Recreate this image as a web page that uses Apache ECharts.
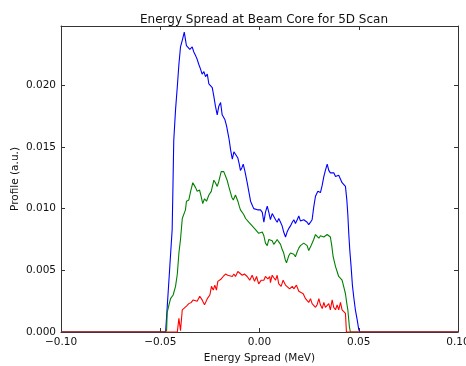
<!DOCTYPE html>
<html>
	<head>
		<meta charset="utf-8">
		<title>Energy Spread at Beam Core for 5D Scan</title>
		<script type="text/javascript" src="https://cdn.jsdelivr.net/npm/echarts@6/dist/echarts.min.js"></script>
	</head>
	<body style="margin:0;background:#fff;">
		<div id="main" style="width:466px;height:366px;"></div>
	</body>
	<script type="text/javascript">
		// energy spread (MeV) / profile (a.u.)
		var blueX = [-0.1000, -0.0473, -0.0465, -0.0453, -0.0440, -0.0436, -0.0432, -0.0423, -0.0414, -0.0406, -0.0398, -0.0388, -0.0379, -0.0373, -0.0368, -0.0358, -0.0351, -0.0339, -0.0331, -0.0322, -0.0314, -0.0306, -0.0297, -0.0289, -0.0280, -0.0272, -0.0263, -0.0255, -0.0247, -0.0238, -0.0230, -0.0222, -0.0213, -0.0205, -0.0196, -0.0188, -0.0180, -0.0174, -0.0166, -0.0160, -0.0153, -0.0146, -0.0137, -0.0129, -0.0121, -0.0109, -0.0102, -0.0096, -0.0089, -0.0082, -0.0073, -0.0062, -0.0054, -0.0045, -0.0037, -0.0029, -0.0020, -0.0010, 0.0005, 0.0014, 0.0022, 0.0030, 0.0039, 0.0047, 0.0055, 0.0064, 0.0072, 0.0081, 0.0089, 0.0097, 0.0106, 0.0114, 0.0122, 0.0131, 0.0139, 0.0148, 0.0156, 0.0165, 0.0173, 0.0181, 0.0190, 0.0198, 0.0206, 0.0215, 0.0223, 0.0232, 0.0240, 0.0248, 0.0257, 0.0265, 0.0273, 0.0282, 0.0294, 0.0307, 0.0316, 0.0324, 0.0332, 0.0341, 0.0349, 0.0357, 0.0366, 0.0374, 0.0383, 0.0391, 0.0399, 0.0408, 0.0416, 0.0424, 0.0433, 0.0440, 0.0445, 0.0450, 0.0455, 0.0461, 0.0468, 0.0475, 0.0483, 0.0492, 0.0500, 0.0506, 0.1000];
		var blueY = [0, 0, 0.0020, 0.0050, 0.0083, 0.0118, 0.0155, 0.0180, 0.0199, 0.0217, 0.0231, 0.0237, 0.0243, 0.0237, 0.0232, 0.0231, 0.0229, 0.0231, 0.0227, 0.0224, 0.0221, 0.0217, 0.0213, 0.0209, 0.0211, 0.0207, 0.0209, 0.0201, 0.0202, 0.0198, 0.0191, 0.0183, 0.0176, 0.0183, 0.0186, 0.0176, 0.0175, 0.0172, 0.0167, 0.0162, 0.0156, 0.0148, 0.0140, 0.0146, 0.0144, 0.0141, 0.0136, 0.0131, 0.0133, 0.0136, 0.0130, 0.0121, 0.0114, 0.0106, 0.0103, 0.0100, 0.0099, 0.0099, 0.0099, 0.0097, 0.0089, 0.0097, 0.0102, 0.0097, 0.0091, 0.0096, 0.0095, 0.0091, 0.0089, 0.0092, 0.0089, 0.0086, 0.0081, 0.0077, 0.0081, 0.0084, 0.0086, 0.0089, 0.0091, 0.0088, 0.0091, 0.0094, 0.0090, 0.0089, 0.0091, 0.0091, 0.0089, 0.0087, 0.0089, 0.0091, 0.0101, 0.0110, 0.0114, 0.0113, 0.0119, 0.0126, 0.0131, 0.0136, 0.0131, 0.0129, 0.0130, 0.0129, 0.0126, 0.0125, 0.0127, 0.0126, 0.0121, 0.0122, 0.0118, 0.0107, 0.0095, 0.0079, 0.0066, 0.0054, 0.0038, 0.0028, 0.0018, 0.0010, 0.0002, 0, 0];

		var greenX = [-0.1000, -0.0483, -0.0468, -0.0465, -0.0456, -0.0448, -0.0435, -0.0423, -0.0414, -0.0406, -0.0398, -0.0389, -0.0381, -0.0373, -0.0368, -0.0356, -0.0347, -0.0336, -0.0322, -0.0314, -0.0302, -0.0294, -0.0286, -0.0277, -0.0267, -0.0255, -0.0243, -0.0230, -0.0222, -0.0213, -0.0205, -0.0193, -0.0180, -0.0171, -0.0163, -0.0155, -0.0146, -0.0139, -0.0132, -0.0121, -0.0109, -0.0102, -0.0096, -0.0087, -0.0079, -0.0070, -0.0062, -0.0054, -0.0045, -0.0037, -0.0029, -0.0020, -0.0012, -0.0004, 0.0005, 0.0014, 0.0022, 0.0030, 0.0039, 0.0047, 0.0055, 0.0064, 0.0072, 0.0081, 0.0089, 0.0097, 0.0106, 0.0114, 0.0122, 0.0129, 0.0136, 0.0142, 0.0148, 0.0156, 0.0165, 0.0173, 0.0181, 0.0190, 0.0198, 0.0206, 0.0215, 0.0223, 0.0232, 0.0240, 0.0248, 0.0257, 0.0265, 0.0273, 0.0282, 0.0290, 0.0299, 0.0307, 0.0316, 0.0324, 0.0332, 0.0341, 0.0349, 0.0357, 0.0364, 0.0371, 0.0383, 0.0391, 0.0399, 0.0408, 0.0416, 0.0424, 0.0433, 0.0439, 0.0445, 0.0449, 0.0453, 0.0458, 0.1000];
		var greenY = [0, 0, 0.0001, 0.0016, 0.0022, 0.0027, 0.0030, 0.0037, 0.0047, 0.0064, 0.0075, 0.0092, 0.0093, 0.0099, 0.0106, 0.0107, 0.0114, 0.0121, 0.0117, 0.0114, 0.0115, 0.0110, 0.0104, 0.0108, 0.0106, 0.0111, 0.0114, 0.0123, 0.0121, 0.0118, 0.0122, 0.0130, 0.0130, 0.0131, 0.0123, 0.0118, 0.0113, 0.0109, 0.0107, 0.0111, 0.0106, 0.0102, 0.0099, 0.0097, 0.0095, 0.0092, 0.0091, 0.0089, 0.0088, 0.0086, 0.0085, 0.0083, 0.0083, 0.0080, 0.0079, 0.0081, 0.0078, 0.0072, 0.0070, 0.0075, 0.0076, 0.0074, 0.0071, 0.0073, 0.0075, 0.0073, 0.0071, 0.0067, 0.0064, 0.0059, 0.0056, 0.0059, 0.0062, 0.0064, 0.0065, 0.0063, 0.0061, 0.0065, 0.0068, 0.0070, 0.0070, 0.0072, 0.0073, 0.0070, 0.0066, 0.0069, 0.0072, 0.0075, 0.0079, 0.0078, 0.0076, 0.0078, 0.0079, 0.0077, 0.0076, 0.0079, 0.0080, 0.0077, 0.0070, 0.0061, 0.0053, 0.0049, 0.0045, 0.0044, 0.0042, 0.0037, 0.0031, 0.0024, 0.0018, 0.0011, 0.0004, 0, 0];

		var redX = [-0.1000, -0.0414, -0.0406, -0.0398, -0.0389, -0.0381, -0.0368, -0.0356, -0.0344, -0.0334, -0.0327, -0.0314, -0.0301, -0.0289, -0.0277, -0.0263, -0.0250, -0.0242, -0.0233, -0.0225, -0.0217, -0.0210, -0.0200, -0.0193, -0.0183, -0.0171, -0.0160, -0.0150, -0.0137, -0.0129, -0.0121, -0.0109, -0.0099, -0.0087, -0.0076, -0.0062, -0.0049, -0.0037, -0.0025, -0.0015, -0.0004, 0.0009, 0.0022, 0.0030, 0.0042, 0.0052, 0.0055, 0.0064, 0.0072, 0.0081, 0.0089, 0.0097, 0.0109, 0.0119, 0.0131, 0.0139, 0.0152, 0.0165, 0.0173, 0.0186, 0.0198, 0.0206, 0.0220, 0.0232, 0.0240, 0.0248, 0.0257, 0.0265, 0.0273, 0.0282, 0.0290, 0.0299, 0.0307, 0.0316, 0.0324, 0.0332, 0.0349, 0.0357, 0.0366, 0.0374, 0.0383, 0.0391, 0.0399, 0.0408, 0.0416, 0.0424, 0.0433, 0.0438, 0.1000];
		var redY = [0, 0, 0.0011, 0.0001, 0.0018, 0.0019, 0.0021, 0.0023, 0.0024, 0.0026, 0.0027, 0.0025, 0.0029, 0.0026, 0.0022, 0.0027, 0.0030, 0.0037, 0.0034, 0.0038, 0.0034, 0.0041, 0.0041, 0.0043, 0.0045, 0.0047, 0.0046, 0.0047, 0.0045, 0.0047, 0.0045, 0.0049, 0.0050, 0.0046, 0.0047, 0.0045, 0.0042, 0.0046, 0.0041, 0.0045, 0.0039, 0.0042, 0.0042, 0.0045, 0.0043, 0.0045, 0.0040, 0.0046, 0.0044, 0.0042, 0.0046, 0.0039, 0.0037, 0.0042, 0.0038, 0.0039, 0.0035, 0.0037, 0.0035, 0.0038, 0.0033, 0.0034, 0.0031, 0.0027, 0.0028, 0.0024, 0.0027, 0.0023, 0.0024, 0.0020, 0.0022, 0.0027, 0.0022, 0.0019, 0.0024, 0.0020, 0.0023, 0.0018, 0.0026, 0.0020, 0.0018, 0.0022, 0.0018, 0.0024, 0.0018, 0.0019, 0.0015, 0, 0];

		var xTicks = { min: -0.10, max: 0.10, step: 0.05 };
		var yTicks = { min: 0, max: 0.0248, step: 0.005 };

		function pairs(xs, ys) {
			return xs.map(function (x, i) { return [x, ys[i]]; });
		}
		function fmt(v, d) {
			if (Math.abs(v) < 1e-9) v = 0;
			var s = v.toFixed(d);
			return s.charAt(0) === '-' ? '\u2212' + s.slice(1) : s;
		}

		var font = 'DejaVu Sans';
		var frame = { show: true, onZero: false, lineStyle: { color: '#333', width: 1 } };
		var tick = { show: true, inside: true, length: 4, lineStyle: { color: '#333' } };

		var myChart = echarts.init(document.getElementById('main'));
		myChart.setOption({
			animation: false,
			textStyle: { fontFamily: font },
			title: {
				text: 'Energy Spread at Beam Core for 5D Scan',
				left: 259, top: 9, textAlign: 'center',
				textStyle: { fontFamily: font, fontSize: 12, fontWeight: 'normal', color: '#111' }
			},
			// y axis title drawn by hand, the axis name gets pushed away from the labels
			graphic: [{
				type: 'text', x: 15, y: 179, rotation: Math.PI / 2,
				style: { text: 'Profile (a.u.)', font: '10.5px "DejaVu Sans"', fill: '#111', align: 'center', verticalAlign: 'middle' }
			}],
			grid: { left: 61, right: 8, top: 26, bottom: 34, containLabel: false, outerBoundsMode: 'none' },
			xAxis: [{
				type: 'value', position: 'bottom',
				min: xTicks.min, max: xTicks.max, interval: xTicks.step,
				axisLine: frame, axisTick: tick, splitLine: { show: false },
				axisLabel: { fontSize: 10.5, color: '#111', margin: 5, hideOverlap: false, formatter: function (v) { return fmt(v, 2); } },
				name: 'Energy Spread (MeV)', nameLocation: 'middle', nameGap: 20,
				nameTextStyle: { fontFamily: font, fontSize: 10.5, color: '#111' }
			}, {
				type: 'value', position: 'top',
				min: xTicks.min, max: xTicks.max, interval: xTicks.step,
				axisLine: frame, axisTick: tick, splitLine: { show: false },
				axisLabel: { show: false }
			}],
			yAxis: [{
				type: 'value', position: 'left',
				min: yTicks.min, max: yTicks.max, interval: yTicks.step,
				axisLine: frame, axisTick: tick, splitLine: { show: false },
				axisLabel: { fontSize: 10.5, color: '#111', margin: 5, showMaxLabel: false, formatter: function (v) { return fmt(v, 3); } }
			}, {
				type: 'value', position: 'right',
				min: yTicks.min, max: yTicks.max, interval: yTicks.step,
				axisLine: frame, axisTick: tick, splitLine: { show: false },
				axisLabel: { show: false }
			}],
			series: [
				{ name: 'blue', type: 'line', showSymbol: false, data: pairs(blueX, blueY), lineStyle: { color: '#0000ff', width: 1.1 }, itemStyle: { color: '#0000ff' } },
				{ name: 'green', type: 'line', showSymbol: false, data: pairs(greenX, greenY), lineStyle: { color: '#008000', width: 1.1 }, itemStyle: { color: '#008000' } },
				{ name: 'red', type: 'line', showSymbol: false, data: pairs(redX, redY), lineStyle: { color: '#ff0000', width: 1.1 }, itemStyle: { color: '#ff0000' } }
			]
		});
	</script>
</html>
